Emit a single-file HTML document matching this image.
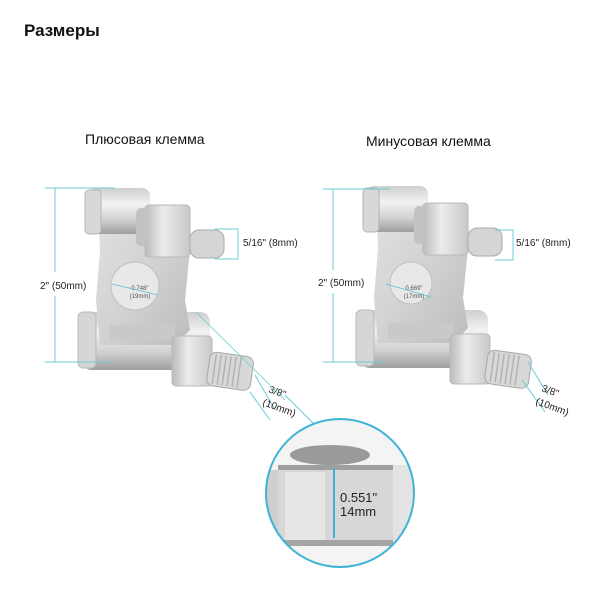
<!DOCTYPE html>
<html><head><meta charset="utf-8"><style>
html,body{margin:0;padding:0;background:#fff;}
svg{display:block;font-family:"Liberation Sans","DejaVu Sans",sans-serif;}
</style></head><body>
<svg width="600" height="600" viewBox="0 0 600 600" xmlns="http://www.w3.org/2000/svg">
<defs>
<linearGradient id="cylV" x1="0" y1="0" x2="0" y2="1">
<stop offset="0" stop-color="#cfcfcf"/><stop offset="0.35" stop-color="#f2f2f2"/><stop offset="0.7" stop-color="#d0d0d0"/><stop offset="1" stop-color="#9e9e9e"/></linearGradient>
<linearGradient id="body" x1="0" y1="0" x2="1" y2="1">
<stop offset="0" stop-color="#e2e2e2"/><stop offset="0.5" stop-color="#d2d2d2"/><stop offset="1" stop-color="#bdbdbd"/></linearGradient>
<linearGradient id="nut" x1="0" y1="0" x2="1" y2="0">
<stop offset="0" stop-color="#bbb"/><stop offset="0.4" stop-color="#ececec"/><stop offset="1" stop-color="#c8c8c8"/></linearGradient>
<g id="term">
  <!-- bottom cylinder -->
  <rect x="82" y="312" width="128" height="58" rx="10" fill="url(#cylV)"/>
  <rect x="78" y="312" width="18" height="56" rx="5" fill="#d6d6d6" stroke="#bbb"/>
  <!-- body plate -->
  <path d="M98 205 L180 205 L190 250 L185 300 L190 330 L175 345 L100 345 L96 300 L100 250 Z" fill="url(#body)"/>
  <path d="M110 325 L175 325 L175 340 L110 340 Z" fill="#c9c9c9"/>
  <!-- top cylinder -->
  <rect x="88" y="188" width="62" height="46" rx="8" fill="url(#cylV)"/>
  <rect x="85" y="190" width="16" height="44" rx="4" fill="#d8d8d8" stroke="#b5b5b5"/>
  <!-- top nut -->
  <rect x="145" y="205" width="45" height="52" rx="4" fill="url(#nut)" stroke="#b9b9b9"/>
  <rect x="136" y="208" width="12" height="38" rx="5" fill="#c2c2c2"/>
  <!-- top thread -->
  <rect x="190" y="230" width="34" height="28" rx="9" fill="#d5d5d5" stroke="#aaa"/>
  <!-- bottom nut -->
  <rect x="172" y="336" width="40" height="50" rx="4" fill="url(#nut)" stroke="#b8b8b8"/>
  <!-- bottom thread -->
  <g transform="rotate(8 228 372)">
  <rect x="208" y="354" width="44" height="34" rx="7" fill="#d8d8d8" stroke="#a8a8a8"/>
  <path d="M214 356v30M219 356v30M224 356v30M229 356v30M234 356v30M239 356v30" stroke="#b2b2b2" stroke-width="1.5"/>
  </g>
</g>
</defs>

<text x="24" y="36" font-size="17" font-weight="bold" fill="#111">Размеры</text>
<text x="85" y="144" font-size="14" fill="#111">Плюсовая клемма</text>
<text x="366" y="146" font-size="14" fill="#111">Минусовая клемма</text>

<!-- left terminal -->
<use href="#term"/>
<circle cx="135" cy="286" r="24" fill="#e8e8e8" stroke="#c0c0c0"/>
<text x="140" y="290" font-size="6" text-anchor="middle" fill="#555">0.748"</text>
<text x="140" y="298" font-size="6" text-anchor="middle" fill="#555">(19mm)</text>
<line x1="112" y1="284" x2="158" y2="295" stroke="#5cc0d0" stroke-width="0.8"/>

<!-- right terminal -->
<use href="#term" transform="translate(278,-2)"/>
<circle cx="411" cy="283" r="21" fill="#e8e8e8" stroke="#c0c0c0"/>
<text x="414" y="290" font-size="6" text-anchor="middle" fill="#555">0.669"</text>
<text x="414" y="298" font-size="6" text-anchor="middle" fill="#555">(17mm)</text>
<line x1="386" y1="284" x2="431" y2="297" stroke="#5cc0d0" stroke-width="0.8"/>

<g stroke="#6ccbd6" stroke-width="1" fill="none">
  <!-- left 2" -->
  <path d="M45 188H115M55 188V272M55 296V362M45 362H110"/>
  <path d="M215 229H238V259H215M238 229"/>
  <path d="M255 375L275 410M250 392L270 420M285 395L330 440"/>
  <!-- right -->
  <path d="M323 189H390M333 189V270M333 293V362M323 362H385"/>
  <path d="M495 230H513V260H495"/>
  <path d="M528 362L548 395M522 380L545 412"/>
</g>
<text x="40" y="289" font-size="10" fill="#222">2" (50mm)</text>
<text x="243" y="246" font-size="10" fill="#222">5/16" (8mm)</text>
<text x="268" y="392" font-size="10" fill="#222" transform="rotate(20 268 392)">3/8"</text>
<text x="262" y="405" font-size="10" fill="#222" transform="rotate(20 262 405)">(10mm)</text>
<text x="318" y="286" font-size="10" fill="#222">2" (50mm)</text>
<text x="516" y="246" font-size="10" fill="#222">5/16" (8mm)</text>
<text x="541" y="391" font-size="10" fill="#222" transform="rotate(20 541 391)">3/8"</text>
<text x="535" y="404" font-size="10" fill="#222" transform="rotate(20 535 404)">(10mm)</text>
<line x1="196" y1="312" x2="285" y2="400" stroke="#6ccbd6" stroke-width="0.8"/>

<!-- zoom circle -->
<clipPath id="cc"><circle cx="340" cy="493" r="74"/></clipPath>
<g clip-path="url(#cc)">
  <rect x="260" y="415" width="160" height="160" fill="#f4f4f4"/>
  <ellipse cx="330" cy="455" rx="40" ry="10" fill="#9a9a9a"/>
  <rect x="278" y="468" width="115" height="78" fill="#d7d7d7"/>
  <rect x="285" y="472" width="40" height="70" fill="#e6e6e6"/>
  <rect x="278" y="465" width="115" height="5" fill="#9f9f9f"/>
  <rect x="278" y="540" width="115" height="6" fill="#a5a5a5"/>
  <rect x="393" y="465" width="30" height="85" fill="#e3e3e3"/>
  <rect x="262" y="470" width="16" height="80" fill="#cfcfcf"/>
</g>
<circle cx="340" cy="493" r="74" fill="none" stroke="#3db4d6" stroke-width="2"/>
<line x1="334" y1="468" x2="334" y2="538" stroke="#3db4d6" stroke-width="2"/>
<text x="340" y="502" font-size="13" fill="#222">0.551"</text>
<text x="340" y="516" font-size="13" fill="#222">14mm</text>
</svg>
</body></html>
